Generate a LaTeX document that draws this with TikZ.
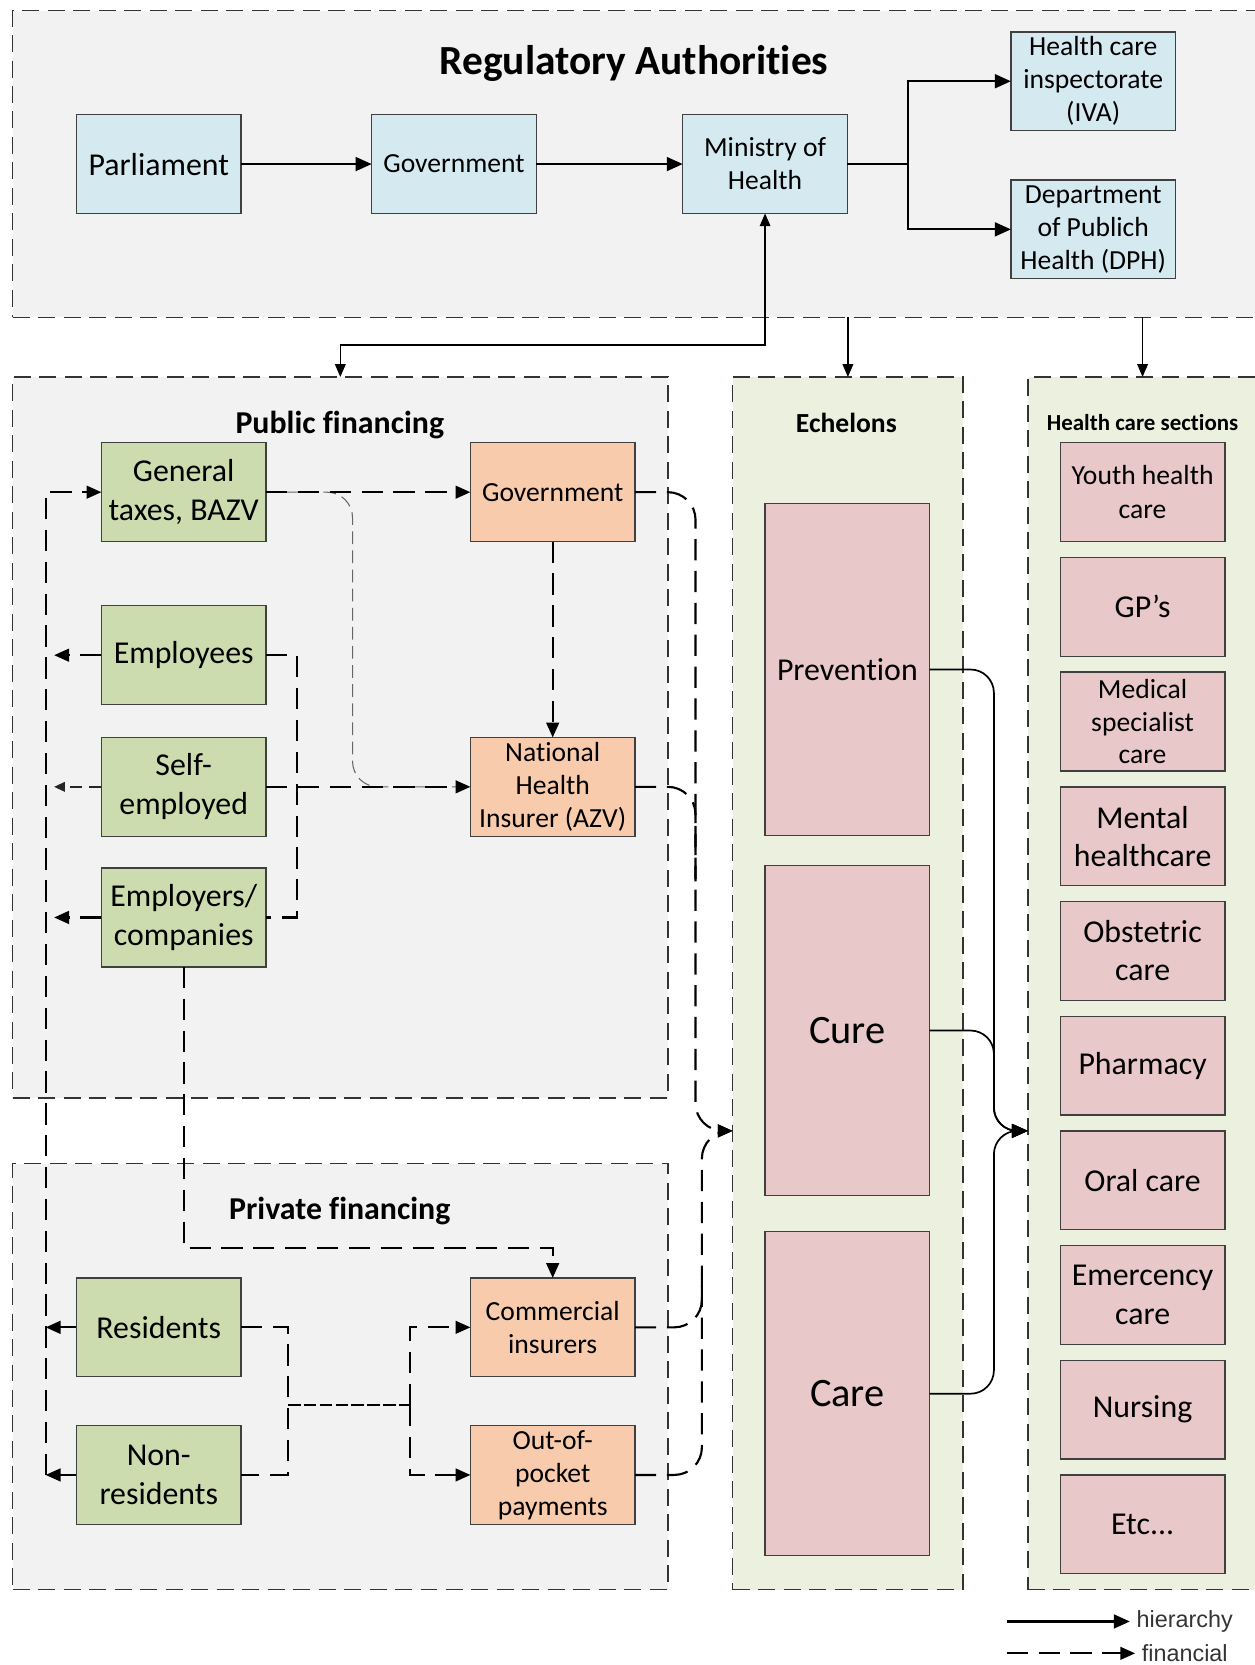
\documentclass[tikz,border=0pt]{standalone}
\usepackage{fontspec}
\setmainfont{Carlito}[Ligatures=NoCommon]
\newfontfamily\legendfont{Liberation Sans}
\usetikzlibrary{arrows.meta}
\definecolor{area-gray}{HTML}{F2F2F2}
\definecolor{area-green}{HTML}{EBF1DE}
\definecolor{box-blue}{HTML}{D5EAF0}
\definecolor{box-green}{HTML}{CDDCAF}
\definecolor{box-orange}{HTML}{F8CBAD}
\definecolor{box-pink}{HTML}{E8C8C8}
\tikzset{
    area-box/.style = {draw=black!80, line width=0.6pt, dash pattern=on 8pt off 4pt, rectangle, inner sep=0pt, outer sep=0pt},
    area-title/.style = {inner sep=1pt},
    base-box/.style = {draw=black!75, line width=0.65pt, rectangle, minimum width=77.5pt, minimum height=46.5pt, inner sep=1pt, outer sep=0pt, align=center, font=\fontsize{13}{15.5}\selectfont},
    reg-box/.style = {base-box, fill=box-blue},
    pay-box/.style = {base-box, fill=box-green, font=\fontsize{15}{18.5}\selectfont},
    fund-box/.style = {base-box, fill=box-orange},
    care-box/.style = {base-box, fill=box-pink, font=\fontsize{15}{18}\selectfont},
    hier-arrow/.style = {line width=1pt, -{Triangle[length=7.5pt, width=6.5pt]}},
    thin-arrow/.style = {line width=0.6pt, -{Triangle[length=6pt, width=5pt]}},
    fin-line/.style = {line width=1pt, dash pattern=on 10pt off 5pt},
    fin-arrow/.style = {fin-line, -{Triangle[length=7pt, width=6pt]}},
    fin-thin/.style = {line width=0.5pt, draw=black!60, dash pattern=on 6pt off 3pt},
    fin-thin-arrow/.style = {line width=0.7pt, draw=black!85, dash pattern=on 6pt off 3pt, -{Triangle[length=5pt, width=4.5pt]}},
    mid-line/.style = {line width=0.9pt, dash pattern=on 6pt off 1.5pt},
    legend-text/.style = {font=\legendfont\fontsize{11}{13}\selectfont, text=black!80, inner sep=3pt},
}

\begin{document}
\begin{tikzpicture}[x=0.5pt, y=-0.5pt]
\useasboundingbox (0,0) rectangle (1181,1568);

% areas
\node[area-box, fill=area-gray, minimum width=594pt, minimum height=144.5pt] (reg) at (606,154.5) {};
\node[area-box, fill=area-gray, minimum width=308.5pt, minimum height=339.5pt] (pubfin) at (320.5,694.5) {};
\node[area-box, fill=area-gray, minimum width=308.5pt, minimum height=200.5pt] (privfin) at (320.5,1296.5) {};
\node[area-box, fill=area-green, minimum width=108.5pt, minimum height=571pt] (echel) at (798.5,926) {};
\node[area-box, fill=area-green, minimum width=116pt, minimum height=571pt] (sect) at (1084,926) {};

\node[area-title, font=\bfseries\fontsize{19.5}{22}\selectfont] (reg-title) at (597,60) {Regulatory Authorities};
\node[area-title, font=\bfseries\fontsize{15}{18}\selectfont] (pub-title) at (320,400) {Public financing};
\node[area-title, font=\bfseries\fontsize{15}{18}\selectfont] (priv-title) at (320,1140) {Private financing};
\node[area-title, font=\bfseries\fontsize{13}{15}\selectfont] (ech-title) at (797,398) {Echelons};
\node[area-title, font=\bfseries\fontsize{10.8}{13}\selectfont] (sec-title) at (1076,398) {Health care sections};

% regulatory authorities
\node[reg-box, font=\fontsize{15}{18}\selectfont] (parl) at (149.5,154.5) {Parliament};
\node[reg-box] (gov) at (427.5,154.5) {Government};
\node[reg-box] (moh) at (720.5,154.5) {Ministry of\\Health};
\node[reg-box] (iva) at (1029.5,76.5) {Health care\\inspectorate\\(IVA)};
\node[reg-box] (dph) at (1029.5,216) {Department\\of Publich\\Health (DPH)};

% public financing
\node[pay-box] (gentax) at (173,463.5) {General\\taxes, BAZV};
\node[pay-box] (empl) at (173,617) {Employees};
\node[pay-box] (selfemp) at (173,741) {Self-\\employed};
\node[pay-box] (emplrs) at (173,864) {Employers/\\companies};
\node[fund-box] (pgov) at (520.5,463.5) {Government};
\node[fund-box] (azv) at (520.5,741) {National\\Health\\Insurer (AZV)};

% private financing
\node[pay-box] (resid) at (149.5,1250) {Residents};
\node[pay-box] (nonres) at (149.5,1389) {Non-\\residents};
\node[fund-box] (comm) at (520.5,1250) {Commercial\\insurers};
\node[fund-box] (oop) at (520.5,1389) {Out-of-\\pocket\\payments};

% echelons
\node[care-box, minimum height=156.5pt] (prev) at (798,630.5) {Prevention};
\node[care-box, minimum height=155.5pt, font=\fontsize{19}{22}\selectfont] (cure) at (798,970.5) {Cure};
\node[care-box, minimum height=152.5pt, font=\fontsize{19}{22}\selectfont] (care) at (798,1312.5) {Care};

% health care sections
\node[care-box, font=\fontsize{13}{16}\selectfont] (youth) at (1076,463.5) {Youth health\\care};
\node[care-box] (gp) at (1076,571.5) {GP’s};
\node[care-box, font=\fontsize{13}{15.5}\selectfont] (medspec) at (1076,679.5) {Medical\\specialist\\care};
\node[care-box] (mental) at (1076,787.5) {Mental\\healthcare};
\node[care-box] (obstet) at (1076,895.5) {Obstetric\\care};
\node[care-box] (pharm) at (1076,1003.5) {Pharmacy};
\node[care-box] (oral) at (1076,1111.5) {Oral care};
\node[care-box] (emerg) at (1076,1219.5) {Emercency\\care};
\node[care-box] (nursing) at (1076,1327.5) {Nursing};
\node[care-box] (etc) at (1076,1435.5) {Etc...};

% hierarchy
\coordinate (moh-split) at (855,154.5);
\coordinate (moh-bend) at (720.5,325);
\draw[hier-arrow] (parl) -- (gov);
\draw[hier-arrow] (gov) -- (moh);
\draw[hier-arrow] (moh) -- (moh-split) |- (iva);
\draw[hier-arrow] (moh-split) |- (dph);
\draw[line width=0.6pt, {Triangle[length=6pt, width=5pt]}-{Triangle[length=6pt, width=5pt]}] (moh.south) -- (moh-bend) -| (pubfin.north);
\draw[thin-arrow] (reg.south -| echel.north) -- (echel.north);
\draw[thin-arrow] (reg.south -| youth.north) -- (youth.north |- sect.north);

\coordinate (sect-in) at (968,1065);
\draw[hier-arrow, line width=0.8pt, rounded corners=11pt] (prev.east) -| (936,1065) -- (sect-in);
\draw[hier-arrow, line width=0.8pt, rounded corners=11pt] (cure.east) -| (936,1065) -- (sect-in);
\draw[hier-arrow, line width=0.8pt, rounded corners=11pt] (care.east) -| (936,1065) -- (sect-in);

% financial
\coordinate (tax-spine) at (43,1389);
\draw[fin-arrow] (tax-spine) |- (gentax.west);
\draw[fin-arrow, shorten >=4pt] (empl.west) -- (empl.west -| tax-spine);
\draw[fin-thin-arrow, shorten >=4pt] (selfemp.west) -- (selfemp.west -| tax-spine);
\draw[fin-arrow, shorten >=4pt] (emplrs.west) -- (emplrs.west -| tax-spine);
\draw[fin-arrow] (resid.west) -- (resid.west -| tax-spine);
\draw[fin-arrow] (nonres.west) -- (tax-spine);

\draw[fin-thin, rounded corners=12pt] (gentax.east) -| (332,741) -- (azv.west);
\draw[fin-arrow] (gentax) -- (pgov);
\draw[fin-arrow] (pgov) -- (azv);
\draw[fin-line] (empl.east) -- ++(29,0) |- (emplrs.east);
\draw[fin-arrow] (selfemp) -- (azv);

\coordinate (emplrs-bend) at (173,1175);
\draw[fin-arrow] (emplrs.south) -- (emplrs-bend) -| (comm.north);

\coordinate (pay-left) at (271,1323);
\coordinate (pay-right) at (386,1323);
\draw[fin-line] (resid.east) -- ++(44,0) |- (nonres.east);
\draw[mid-line] (pay-left) -- (pay-right);
\draw[fin-arrow] (pay-right) |- (comm.west);
\draw[fin-arrow] (pay-right) |- (oop.west);

\coordinate (ech-in) at (690,1065);
\draw[fin-arrow, rounded corners=13pt] (pgov.east) -| (655,1065) -- (ech-in);
\draw[fin-line, rounded corners=13pt] (azv.east) -| (655,830);
\draw[fin-arrow, rounded corners=13pt] (comm.east) -| (661,1065) -- (ech-in);
\draw[fin-line, rounded corners=13pt] (oop.east) -| (661,1200);

% legend
\coordinate (leg-hier) at (948,1527);
\coordinate (leg-fin) at (948,1557);
\node[legend-text, anchor=west] (hier-label) at (1064,1527) {hierarchy};
\node[legend-text, anchor=west] (fin-label) at (1069,1557) {financial};
\draw[hier-arrow] (leg-hier) -- (hier-label);
\draw[fin-arrow] (leg-fin) -- (fin-label);
\end{tikzpicture}
\end{document}
